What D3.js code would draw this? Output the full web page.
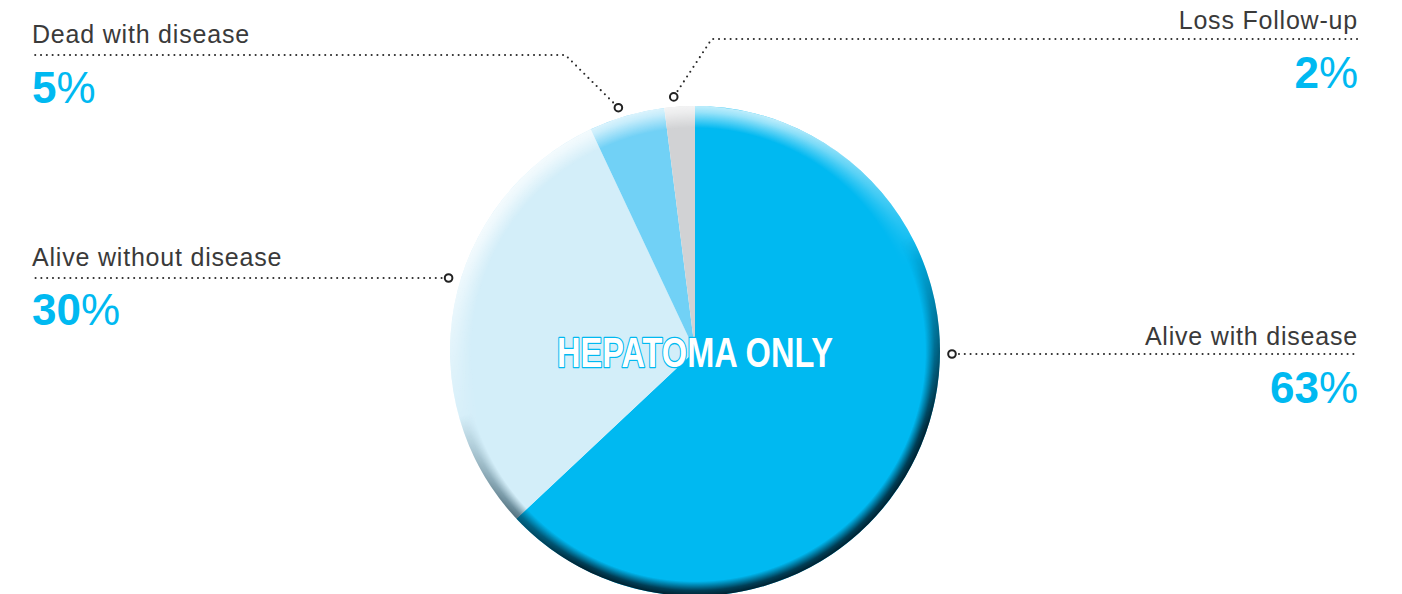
<!DOCTYPE html>
<html>
<head>
<meta charset="utf-8">
<script src="https://cdn.jsdelivr.net/npm/d3@7/dist/d3.min.js"></script>
<style>
  html, body { margin: 0; padding: 0; background: #ffffff; }
  svg { display: block; }
</style>
</head>
<body>
<svg id="chart" width="1402" height="594"></svg>
<script>
// Outcome categories, clockwise from 12 o'clock
const categories = ["Alive with disease", "Alive without disease", "Dead with disease", "Loss Follow-up"];
const shares = [63, 30, 5, 2];
const sliceColors = ["#00b9f1", "#d3eef9", "#71d1f6", "#d1d2d4"];
const centerTitle = "HEPATOMA ONLY";

// Callout layout: which side the label sits, the dotted line height, and the elbow
const callouts = [
  { side: "right", lineY: 354, textY: 345, pctY: 403 },
  { side: "left",  lineY: 278, textY: 266, pctY: 325 },
  { side: "left",  lineY: 55,  textY: 43,  pctY: 103, elbowDX: 53 },
  { side: "right", lineY: 39,  textY: 29,  pctY: 88,  elbowDX: 38 }
];

const W = 1402, H = 594;
const cx = 695, cy = 351, R = 245;
const leftX = 32, rightX = 1358;
const accent = "#00b9f1", ink = "#3a3a3a";

const svg = d3.select("#chart");
const defs = svg.append("defs");

// Radial rim profiles (transparent inside, strong at the rim)
const rimDark = defs.append("radialGradient").attr("id", "rimDark")
  .attr("gradientUnits", "userSpaceOnUse").attr("cx", cx).attr("cy", cy).attr("r", R);
rimDark.append("stop").attr("offset", 0.94).attr("stop-color", "#00283a").attr("stop-opacity", 0);
rimDark.append("stop").attr("offset", 0.978).attr("stop-color", "#00283a").attr("stop-opacity", 0.85);
rimDark.append("stop").attr("offset", 1).attr("stop-color", "#00202e").attr("stop-opacity", 1);

const rimLight = defs.append("radialGradient").attr("id", "rimLight")
  .attr("gradientUnits", "userSpaceOnUse").attr("cx", cx).attr("cy", cy).attr("r", R);
rimLight.append("stop").attr("offset", 0.91).attr("stop-color", "#ffffff").attr("stop-opacity", 0);
rimLight.append("stop").attr("offset", 0.975).attr("stop-color", "#ffffff").attr("stop-opacity", 0.6);
rimLight.append("stop").attr("offset", 1).attr("stop-color", "#ffffff").attr("stop-opacity", 0.75);

// Directional masks: light rim toward the upper-left, dark rim toward the lower-right
function dirGradient(id, stops) {
  const g = defs.append("linearGradient").attr("id", id)
    .attr("x1", 0.3).attr("y1", 0).attr("x2", 0.7).attr("y2", 1);
  stops.forEach(s => g.append("stop").attr("offset", s[0]).attr("stop-color", s[1]));
}
dirGradient("dirDark", [[0, "#000"], [0.45, "#000"], [0.8, "#fff"], [1, "#fff"]]);
dirGradient("dirLight", [[0, "#fff"], [0.15, "#fff"], [0.5, "#000"], [1, "#000"]]);

function addMask(id, grad) {
  defs.append("mask").attr("id", id)
    .attr("maskUnits", "userSpaceOnUse")
    .attr("x", cx - R - 2).attr("y", cy - R - 2).attr("width", 2 * R + 4).attr("height", 2 * R + 4)
    .append("rect")
    .attr("x", cx - R).attr("y", cy - R).attr("width", 2 * R).attr("height", 2 * R)
    .attr("fill", `url(#${grad})`);
}
addMask("maskDark", "dirDark");
addMask("maskLight", "dirLight");

// Pie
const pie = d3.pie().sort(null).value(d => d.value).startAngle(0).endAngle(2 * Math.PI);
const arcs = pie(categories.map((c, i) => ({ name: c, value: shares[i], color: sliceColors[i] })));
const arc = d3.arc().innerRadius(0).outerRadius(R);

const g = svg.append("g").attr("transform", `translate(${cx},${cy})`);
g.selectAll("path.slice").data(arcs).join("path")
  .attr("class", "slice")
  .attr("d", arc)
  .attr("fill", d => d.data.color);

// Rim shading overlays
svg.append("circle").attr("cx", cx).attr("cy", cy).attr("r", R)
  .attr("fill", "url(#rimLight)").attr("mask", "url(#maskLight)");
svg.append("circle").attr("cx", cx).attr("cy", cy).attr("r", R)
  .attr("fill", "url(#rimDark)").attr("mask", "url(#maskDark)");

// Callouts
const dotted = sel => sel.attr("fill", "none").attr("stroke", "#2a2a2a")
  .attr("stroke-width", 2.1).attr("stroke-linecap", "round").attr("stroke-dasharray", "0 5.8");

arcs.forEach((a, i) => {
  const c = callouts[i];
  let mx, my, pts;
  if (c.elbowDX === undefined) {
    // marker sits on a ring just outside the pie, level with the dotted line
    const rr = R + 12, dy = c.lineY - cy;
    const dx = Math.sqrt(rr * rr - dy * dy);
    mx = c.side === "right" ? cx + dx : cx - dx;
    my = c.lineY;
    const endX = c.side === "right" ? rightX : leftX;
    pts = [[c.side === "right" ? mx + 7 : mx - 7, my], [endX, my]];
  } else {
    // marker just left of the slice's mid angle, with an elbowed leader
    const mid = (a.startAngle + a.endAngle) / 2 - 0.02, rr = R + 12;
    mx = cx + rr * Math.sin(mid);
    my = cy - rr * Math.cos(mid) + 2;
    const ex = c.side === "right" ? mx + c.elbowDX : mx - c.elbowDX;
    const endX = c.side === "right" ? rightX : leftX;
    pts = [[mx + (ex - mx) * 0.1, my - (my - c.lineY) * 0.1], [ex, c.lineY], [endX, c.lineY]];
  }
  svg.append("path").attr("d", d3.line()(pts)).call(dotted);
  svg.append("circle").attr("cx", mx).attr("cy", my).attr("r", 3.8)
    .attr("fill", "#fff").attr("stroke", "#222").attr("stroke-width", 2);

  const tx = c.side === "right" ? rightX : leftX;
  const anchor = c.side === "right" ? "end" : "start";
  svg.append("text").attr("x", tx).attr("y", c.textY).attr("text-anchor", anchor)
    .attr("font-family", "'Liberation Sans', Arial, sans-serif").attr("font-size", 25)
    .attr("letter-spacing", 0.8)
    .attr("fill", ink).text(a.data.name);
  const p = svg.append("text").attr("x", tx).attr("y", c.pctY).attr("text-anchor", anchor)
    .attr("font-family", "'Liberation Sans', Arial, sans-serif").attr("font-size", 44)
    .attr("fill", accent);
  p.append("tspan").attr("font-weight", "bold").text(a.data.value);
  p.append("tspan").attr("font-weight", "normal").text("%");
});

// Center title
svg.append("text")
  .attr("x", cx).attr("y", 367).attr("text-anchor", "middle")
  .attr("font-family", "'Liberation Sans Narrow', 'Liberation Sans', Arial, sans-serif")
  .attr("font-weight", "bold").attr("font-size", 42)
  .attr("textLength", 276).attr("lengthAdjust", "spacingAndGlyphs")
  .attr("fill", "#ffffff").attr("stroke", accent).attr("stroke-width", 2.6)
  .attr("paint-order", "stroke").attr("stroke-linejoin", "round")
  .text(centerTitle);
</script>
</body>
</html>
